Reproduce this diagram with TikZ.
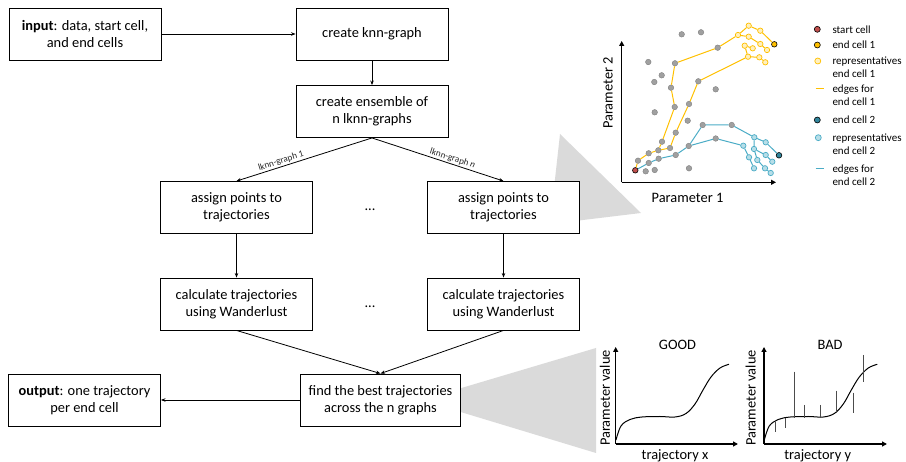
\documentclass[tikz,border=0pt]{standalone}
\usepackage{fontspec}
\setmainfont{Carlito}
\usetikzlibrary{arrows.meta}
\definecolor{yel}{HTML}{FFC000}
\definecolor{yelL}{HTML}{FFF0C0}
\definecolor{blu}{HTML}{4BACC6}
\definecolor{bluL}{HTML}{B7DEE8}
\definecolor{bluD}{HTML}{31859C}
\definecolor{redS}{HTML}{C0504D}
\definecolor{gpt}{HTML}{A0A0A0}
\definecolor{gptD}{HTML}{7F7F7F}
\definecolor{funnel}{HTML}{DADADA}
\begin{document}
\begin{tikzpicture}[x=1pt,y=-1pt,
  box/.style={draw, fill=white, line width=0.9pt, minimum width=152pt, minimum height=52pt, align=center, inner sep=2pt, font=\fontsize{14.4}{17.4}\selectfont},
  arr/.style={-{Stealth[length=4.5pt,width=3.5pt]}, line width=0.8pt},
  lab/.style={font=\fontsize{9.2}{10}\selectfont, text=black!85, inner sep=1pt},
  txt/.style={font=\fontsize{14.4}{17.4}\selectfont, inner sep=0pt},
  leg/.style={font=\fontsize{11}{13.4}\selectfont, inner sep=0pt, anchor=west, align=left},
  ax/.style={line width=1.4pt, -{Triangle[length=5pt,width=5pt]}},
  gp/.style={circle, fill=gpt, draw=gptD, line width=0.4pt, inner sep=0pt, minimum size=5.6pt},
  yr/.style={circle, fill=yelL, draw=yel, line width=0.7pt, inner sep=0pt, minimum size=5.4pt},
  br/.style={circle, fill=bluL, draw=blu, line width=0.7pt, inner sep=0pt, minimum size=5.4pt},
  ye/.style={yel, line width=1pt},
  be/.style={blu, line width=1pt},
  bar/.style={black!70, line width=1pt},
  crv/.style={line width=1pt},
]
\useasboundingbox (0,0) rectangle (906,462);

% funnels
\fill[funnel] (560,134) -- (641,213) -- (550,224) -- cycle;
\fill[funnel] (421,400) -- (596,348) -- (596,453) -- cycle;

% flowchart
\node[box] (in) at (85,34) {\textbf{input}: data, start cell,\\and end cells};
\node[box] (knn) at (372,34) {create knn-graph};
\node[box] (ens) at (372,111.5) {create ensemble of\\n lknn-graphs};
\node[box] (as1) at (236.5,207.5) {assign points to\\trajectories};
\node[box] (asn) at (503.5,207.5) {assign points to\\trajectories};
\node[box] (ca1) at (236.5,304) {calculate trajectories\\using Wanderlust};
\node[box] (can) at (503.5,304) {calculate trajectories\\using Wanderlust};
\node[box, minimum width=160pt] (find) at (380.5,400) {find the best trajectories\\across the n graphs};
\node[box] (out) at (84.5,400) {\textbf{output}: one trajectory\\per end cell};
\node[txt] (dots1) at (370,210) {...};
\node[txt] (dots2) at (370,307) {...};

\draw[arr] (in) -- (knn);
\draw[arr] (knn) -- (ens);
\draw[arr] (ens.south) -- node[lab, sloped, above, pos=0.66] {lknn-graph 1} (as1.north);
\draw[arr] (ens.south) -- node[lab, sloped, above, pos=0.6] {lknn-graph \textit{n}} (asn.north);
\draw[arr] (as1) -- (ca1);
\draw[arr] (asn) -- (can);
\draw[arr] (ca1.south) -- (find.north);
\draw[arr] (can.south) -- (find.north);
\draw[arr] (find) -- (out);

% scatter plot axes
\coordinate (O1) at (621.7,182.3);
\coordinate (Y1) at (621.7,41);
\coordinate (X1) at (776,182.3);
\draw[ax] (O1) -- (Y1);
\draw[ax] (O1) -- (X1);
\node[txt] (p1) at (687.5,198) {Parameter 1};
\node[txt, rotate=90] (p2) at (608,93) {Parameter 2};

% gray points
\node[gp] (g1) at (681.7,34.3) {};
\node[gp] (g2) at (701,32.3) {};
\node[gp] (g3) at (648.3,62) {};
\node[gp] (g4) at (661.7,75.3) {};
\node[gp] (g5) at (654.3,82) {};
\node[gp] (g6) at (715.7,89.3) {};
\node[gp] (g7) at (654.7,112.3) {};
\node[gp] (g8) at (687.7,120.7) {};
\node[gp] (g9) at (645.7,171.3) {};
\node[gp] (g10) at (654.7,170) {};
\node[gp] (g11) at (689,168.3) {};
% path points
\node[gp] (a) at (638,160.7) {};
\node[gp] (b) at (648.7,153.3) {};
\node[gp] (c) at (658.3,150.3) {};
\node[gp] (d) at (662,141.7) {};
\node[gp] (e) at (674.7,107) {};
\node[gp] (f) at (671,87.7) {};
\node[gp] (h) at (675,63.3) {};
\node[gp] (i) at (717.7,47.7) {};
\node[gp] (j) at (670,148) {};
\node[gp] (k) at (675.7,132.7) {};
\node[gp] (l) at (689,104) {};
\node[gp] (m) at (698.3,81.3) {};
\node[gp] (B1) at (648.7,163) {};
\node[gp] (B2) at (658.7,158.7) {};
\node[gp] (B3) at (675.7,155) {};
\node[gp] (B4) at (688.7,146) {};
\node[gp] (B5) at (702.7,125) {};
\node[gp] (B6) at (731.7,125) {};
\node[gp] (B7) at (715.7,138.5) {};
\node[gp, fill=redS, draw=black, line width=0.6pt] (S) at (635.3,170.3) {};
% yellow reps
\node[yr] (r1) at (738,35) {};
\node[yr] (r2) at (748.7,25.7) {};
\node[yr] (r3) at (760.3,30.7) {};
\node[yr] (r4) at (748.7,36.7) {};
\node[yr] (r5) at (760.3,44) {};
\node[yr] (r6) at (767,50) {};
\node[yr] (s1) at (748,56.7) {};
\node[yr] (s2) at (759.3,57.3) {};
\node[yr] (s3) at (765.3,62.3) {};
\node[yr] (s4) at (744.7,45.7) {};
\node[yr] (s5) at (752.7,48.3) {};
\node[gp, fill=yel, draw=black, line width=0.6pt] (E1) at (774.3,44.3) {};
% blue reps
\node[br] (q1) at (754.3,137.3) {};
\node[br] (q2) at (765.7,142.3) {};
\node[br] (q3) at (754,149) {};
\node[br] (q4) at (765.7,155) {};
\node[br] (q5) at (772.3,161.7) {};
\node[br] (q6) at (743.3,145.7) {};
\node[br] (q7) at (749,157.3) {};
\node[br] (q8) at (754,168.3) {};
\node[br] (q9) at (757.3,160) {};
\node[br] (q10) at (765,168.3) {};
\node[br] (q11) at (770.7,173) {};
\node[gp, fill=bluD, draw=black, line width=0.6pt] (E2) at (779,155.3) {};

% yellow edges
\draw[ye] (S) -- (a) -- (b) -- (c) -- (d) -- (e) -- (f) -- (h) -- (i) -- (r1) -- (r2) -- (r3) -- (E1);
\draw[ye] (r1) -- (r4) -- (r5) -- (r6);
\draw[ye] (c) -- (j) -- (k) -- (l) -- (m) -- (s1) -- (s2) -- (s3);
\draw[ye] (s1) -- (s4) -- (s5);
% blue edges
\draw[be] (S) -- (B1) -- (B2) -- (B3) -- (B4) -- (B5) -- (B6) -- (q1) -- (q2) -- (E2);
\draw[be] (q1) -- (q3) -- (q4) -- (q5);
\draw[be] (q3) -- (q9) -- (q10) -- (q11);
\draw[be] (B4) -- (B7) -- (q6) -- (q7) -- (q8);

% legend
\node[gp, fill=redS, draw=black, line width=0.6pt, minimum size=6pt] (L1) at (817.3,29.3) {};
\node[leg] (L1t) at (832.3,29.3) {start cell};
\node[gp, fill=yel, draw=black, line width=0.6pt, minimum size=6pt] (L2) at (817.3,45) {};
\node[leg] (L2t) at (832.3,45) {end cell 1};
\node[yr, minimum size=6pt] (L3) at (817.8,61) {};
\node[leg] (L3t) at (832.3,67.4) {representatives\\end cell 1};
\coordinate (L4a) at (815.5,88.3);
\coordinate (L4b) at (823.5,88.3);
\draw[ye] (L4a) -- (L4b);
\node[leg] (L4t) at (832.3,95) {edges for\\end cell 1};
\node[gp, fill=bluD, draw=black, line width=0.6pt, minimum size=6pt] (L5) at (817.3,120) {};
\node[leg] (L5t) at (832.3,120) {end cell 2};
\node[br, minimum size=6pt] (L6) at (818.3,137.7) {};
\node[leg] (L6t) at (832.3,144.4) {representatives\\end cell 2};
\coordinate (L7a) at (815.5,168.3);
\coordinate (L7b) at (823.5,168.3);
\draw[be] (L7a) -- (L7b);
\node[leg] (L7t) at (832.3,175) {edges for\\end cell 2};

% GOOD plot
\coordinate (O2) at (615.7,444);
\coordinate (Y2) at (615.7,347);
\coordinate (X2) at (738,444);
\draw[ax] (O2) -- (Y2);
\draw[ax] (O2) -- (X2);
\node[txt] (gd) at (677.5,345) {GOOD};
\node[txt, rotate=90] (pv1) at (605,398) {Parameter value};
\node[txt] (tx) at (675,455.5) {trajectory x};
\draw[crv] plot[smooth, tension=0.6] coordinates {(616,440) (621,426) (630,419.5) (642,417) (660,416.5) (675,417) (686,413.5) (695,404) (703,390) (711,377) (720,368) (729,364.3)};

% BAD plot
\coordinate (O3) at (764,444);
\coordinate (Y3) at (764,347);
\coordinate (X3) at (887,444);
\draw[ax] (O3) -- (Y3);
\draw[ax] (O3) -- (X3);
\node[txt] (bd) at (830,345) {BAD};
\node[txt, rotate=90] (pv2) at (750.7,398) {Parameter value};
\node[txt] (ty) at (817.7,455.5) {trajectory y};
\draw[crv] plot[smooth, tension=0.6] coordinates {(764.3,440) (769.3,426) (778.3,419.5) (790.3,417) (808.3,416.5) (823.3,417) (834.3,413.5) (843.3,404) (851.3,390) (859.3,377) (868.3,368) (877.3,364.3)};
\draw[bar] (775,421.7) -- (775,431.7);
\draw[bar] (785.3,417.7) -- (785.3,428.3);
\draw[bar] (794,371.7) -- (794,417.7);
\draw[bar] (804.3,405) -- (804.3,417.7);
\draw[bar] (820,405) -- (820,417.7);
\draw[bar] (836,390.7) -- (836,413.3);
\draw[bar] (853.3,392.7) -- (853.3,413.3);
\draw[bar] (863.3,355) -- (863.3,381.7);
\end{tikzpicture}
\end{document}
